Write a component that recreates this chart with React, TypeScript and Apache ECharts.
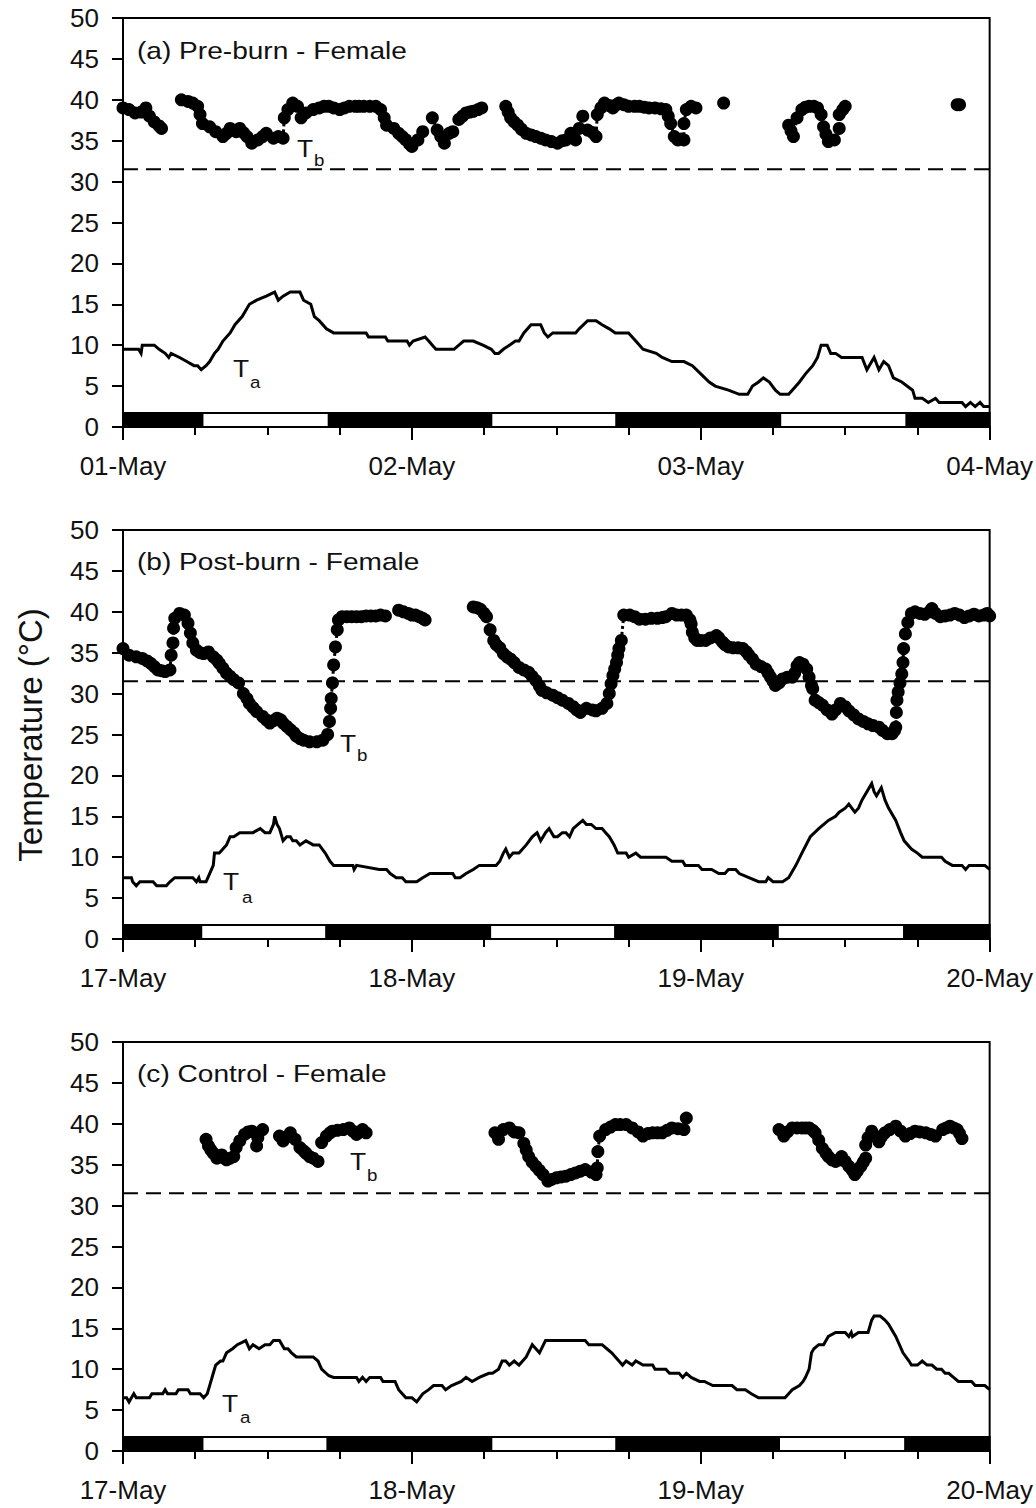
import React, { useEffect, useRef } from "react";
import * as echarts from "echarts";

const FONT = '"Liberation Sans", Arial, sans-serif';

const panelTitles = ["(a) Pre-burn - Female", "(b) Post-burn - Female", "(c) Control - Female"];
const dayLabelsA = ["01-May", "02-May", "03-May", "04-May"];
const dayLabelsB = ["17-May", "18-May", "19-May", "20-May"];
const dayLabelsC = ["17-May", "18-May", "19-May", "20-May"];
const thresholdTb = 31.5;
const lightBarTop = 1.7;

// sunrise / sunset hours (from start of first day)
const lightA = [6.6, 17.1, 30.6, 41.0, 54.6, 65.1];
const lightB = [6.5, 16.9, 30.5, 40.9, 54.4, 64.9];
const lightC = [6.6, 17.0, 30.6, 41.0, 54.5, 65.0];

// ---------- Panel (a) ----------
const taA = [
  [0, 9.5], [1.3, 9.5], [1.5, 9], [1.6, 10], [2.6, 10], [3.0, 9.5], [3.5, 9], [3.8, 8.5], [4.0, 9], [4.7, 8.5],
  [5.3, 8], [5.9, 7.5], [6.2, 7.5], [6.5, 7], [6.9, 7.5], [7.2, 8], [7.6, 9], [7.9, 9.5], [8.3, 10.5], [8.9, 11.5],
  [9.3, 12.5], [9.9, 13.5], [10.5, 15], [11.1, 15.5], [11.9, 16], [12.6, 16.5], [12.9, 15.5], [13.3, 16], [13.9, 16.5],
  [14.7, 16.5], [15.0, 15.5], [15.6, 15], [15.9, 13.5], [16.3, 13], [16.9, 12], [17.5, 11.5], [20.2, 11.5], [20.4, 11],
  [21.8, 11], [22.0, 10.5], [23.6, 10.5], [23.8, 10], [24.1, 10.5], [25.1, 11], [25.4, 10.5], [25.7, 10], [26.0, 9.5],
  [27.5, 9.5], [27.9, 10], [28.3, 10.5], [29.1, 10.5], [29.9, 10], [30.6, 9.5], [30.9, 9], [31.2, 9], [31.6, 9.5],
  [32.1, 10], [32.6, 10.5], [32.9, 10.5], [33.3, 11.5], [33.9, 12.5], [34.7, 12.5], [35.0, 11.5], [35.3, 11],
  [35.7, 11.5], [37.6, 11.5], [37.9, 12], [38.6, 13], [39.3, 13], [39.8, 12.5], [40.4, 12], [40.9, 11.5], [42.0, 11.5],
  [42.6, 10.5], [43.2, 9.5], [44.3, 9], [44.8, 8.5], [45.6, 8], [46.6, 8], [47.3, 7.5], [48.0, 6.5], [48.7, 5.5],
  [49.2, 5], [50.3, 4.5], [51.2, 4], [51.9, 4], [52.3, 5], [52.8, 5.5], [53.2, 6], [53.7, 5.5], [54.2, 4.5], [54.6, 4],
  [55.3, 4], [55.6, 4.5], [56.2, 5.5], [56.7, 6.5], [57.3, 7.5], [57.7, 8.5], [58.0, 10], [58.5, 10], [58.8, 9],
  [59.2, 9], [59.7, 8.5], [61.4, 8.5], [61.8, 7], [62.4, 8.5], [62.8, 7], [63.2, 8], [63.6, 7.5], [64.0, 6], [64.7, 5.5],
  [65.6, 4.5], [65.8, 3.5], [66.4, 3.5], [66.9, 3], [67.5, 3.5], [67.8, 3], [69.7, 3], [70.0, 2.5], [70.4, 3],
  [70.8, 2.5], [71.2, 3], [71.5, 2.5], [72, 2.5],
];

const tbA = [
  [[0, 39], [0.5, 38.8], [1.0, 38.4], [1.5, 38.5], [1.9, 39], [2.2, 38], [2.6, 37.3], [3.0, 36.8], [3.2, 36.5]],
  [[4.85, 40], [5.4, 39.8], [5.8, 39.6], [6.2, 39.2], [6.4, 38.2], [6.6, 37.1], [7.2, 36.7], [7.7, 36.1], [8.3, 35.5],
   [8.6, 35.9], [8.9, 36.5], [9.4, 36.1], [9.7, 36.5], [10.0, 36.0], [10.3, 35.5], [10.7, 34.7], [11.2, 35.1],
   [11.6, 35.5], [11.9, 35.9], [12.5, 35.3], [12.9, 35.5], [13.3, 35.3], [13.4, 37.8], [13.7, 38.8], [14.1, 39.6],
   [14.5, 39.2], [14.8, 37.8], [15.2, 38.4], [15.8, 38.8], [16.3, 39], [16.7, 39.2], [17.1, 39.2], [17.5, 39],
   [18.0, 38.8], [18.4, 39], [18.8, 39.2], [19.3, 39.2], [19.6, 39.2], [20.0, 39.2], [20.5, 39.2], [21.0, 39.2],
   [21.4, 38.8], [21.7, 37.8], [21.9, 36.9], [22.5, 36.5], [22.9, 35.9], [23.2, 35.5], [23.5, 35.1], [23.8, 34.6],
   [24.0, 34.3], [24.5, 35.1], [24.9, 36.1]],
  [[25.7, 37.8], [26.1, 36.3], [26.4, 35.5], [26.7, 34.7], [27.1, 35.9], [27.4, 36.1]],
  [[27.9, 37.6], [28.2, 38], [28.5, 38.4], [28.8, 38.5], [29.1, 38.6], [29.5, 38.8], [29.8, 39]],
  [[31.8, 39.2], [32.0, 38.5], [32.2, 37.8], [32.5, 37.3], [32.8, 36.9], [33.1, 36.4], [33.5, 35.9], [33.9, 35.7],
   [34.3, 35.5], [34.7, 35.3], [35.1, 35.1], [35.6, 34.9], [36.1, 34.7], [36.5, 35], [36.8, 35.1], [37.2, 35.9],
   [37.6, 35.1], [37.9, 36.5], [38.2, 38], [38.6, 36.3], [39.0, 36], [39.3, 35.5], [39.4, 38.2], [39.7, 39],
   [40.0, 39.6], [40.4, 39.3], [40.7, 39], [41.0, 39.4], [41.2, 39.6], [41.6, 39.4], [42.0, 39.2], [42.5, 39.2],
   [42.9, 39.2], [43.3, 39.1], [43.7, 39], [44.2, 39], [44.7, 38.9], [45.1, 38.8], [45.3, 38], [45.5, 37.1],
   [45.8, 35.5], [46.1, 35.1], [46.4, 35.2], [46.6, 35.1], [46.6, 37.1], [46.8, 38.8], [47.2, 39.2], [47.6, 39]],
  [[49.9, 39.6]],
  [[55.3, 36.9], [55.5, 36.2], [55.7, 35.5], [56.0, 37.8], [56.4, 38.8], [56.7, 39.1], [57.0, 39.2], [57.4, 39.2],
   [57.7, 39], [58.0, 38.2], [58.2, 36.7], [58.4, 35.8], [58.6, 34.9], [59.1, 35.1], [59.5, 36.5], [59.5, 38.2],
   [59.8, 38.8], [60.0, 39.2]],
  [[69.3, 39.4], [69.5, 39.4]],
];

// ---------- Panel (b) ----------
const taB = [
  [0, 7.5], [0.7, 7.5], [0.8, 7], [1.1, 6.5], [1.4, 7], [2.5, 7], [2.8, 6.5], [3.6, 6.5], [3.9, 7], [4.3, 7.5],
  [5.8, 7.5], [6.1, 7], [6.3, 7.5], [6.4, 7], [6.9, 7], [7.2, 8], [7.5, 9], [7.6, 10.5], [8.0, 10.5], [8.3, 11],
  [8.6, 11.5], [8.9, 12.5], [9.2, 12.5], [9.7, 13], [10.8, 13], [11.4, 13.5], [11.8, 13], [12.2, 13], [12.5, 14],
  [12.6, 15], [12.8, 14], [13.0, 13.5], [13.3, 12], [13.6, 12.5], [13.9, 12.5], [14.1, 12], [14.4, 12], [14.7, 11.5],
  [15.2, 12], [15.8, 11.5], [16.3, 11.5], [16.8, 10.5], [17.2, 9.5], [17.5, 9], [19.1, 9], [19.2, 8.5], [19.4, 9],
  [21.3, 8.5], [21.9, 8.5], [22.2, 8], [22.7, 7.5], [23.2, 7.5], [23.5, 7], [24.4, 7], [24.9, 7.5], [25.5, 8],
  [27.4, 8], [27.6, 7.5], [28.0, 7.5], [28.5, 8], [29.1, 8.5], [29.6, 9], [31.0, 9], [31.3, 9.5], [31.6, 10.5],
  [31.8, 11], [32.1, 10], [32.4, 10.5], [32.9, 10.5], [33.5, 11.5], [34.0, 12.5], [34.4, 13], [34.7, 12], [35.1, 13],
  [35.4, 13.5], [35.8, 12.5], [36.1, 12.5], [36.5, 13], [36.8, 13], [37.1, 12.5], [37.4, 13.5], [37.8, 14],
  [38.2, 14.5], [38.5, 14], [38.9, 14], [39.3, 13.5], [39.8, 13.5], [40.1, 13], [40.4, 12.5], [40.8, 11.5],
  [41.1, 10.5], [41.8, 10.5], [42.0, 10], [42.6, 10.5], [43.0, 10], [45.1, 10], [45.6, 9.5], [46.5, 9.5], [46.7, 9],
  [47.8, 9], [48.1, 8.5], [48.9, 8.5], [49.5, 8], [50.0, 8], [50.3, 8.5], [50.9, 8.5], [51.2, 8], [52.0, 7.5],
  [52.8, 7], [53.4, 7], [53.6, 7.5], [54.0, 7], [54.8, 7], [55.3, 7.5], [55.9, 9], [56.4, 10.5], [57.1, 12.5],
  [57.8, 13.5], [58.6, 14.5], [59.2, 15], [59.5, 15.5], [60.0, 16], [60.3, 16.5], [60.8, 15.5], [61.1, 16],
  [61.4, 17], [61.8, 18], [62.2, 19], [62.4, 18], [62.6, 17.5], [62.8, 18], [63.0, 18.5], [63.3, 17], [63.6, 16],
  [64.2, 14.5], [64.6, 13], [64.9, 12], [65.5, 11], [66.0, 10.5], [66.4, 10], [68.0, 10], [68.3, 9.5], [68.9, 9],
  [69.7, 9], [70.0, 8.5], [70.3, 9], [71.6, 9], [72, 8.5],
];

const tbB = [
  [[0, 35.5], [0.5, 34.7], [1.1, 34.5], [1.6, 34.3], [2.0, 34], [2.3, 33.7], [2.6, 33.3], [2.9, 32.9], [3.2, 32.8],
   [3.5, 32.7], [3.9, 32.9], [4.0, 34.7], [4.15, 36.2], [4.2, 38], [4.3, 39.2], [4.7, 39.8], [5.1, 39.6], [5.4, 38.6],
   [5.6, 37.4], [5.8, 36.2], [6.1, 35.3], [6.4, 35], [6.7, 34.9], [7.1, 35.1], [7.5, 34.5], [7.8, 34.1], [8.0, 33.7],
   [8.3, 33.1], [8.6, 32.5], [8.9, 32.1], [9.2, 31.7], [9.6, 31.3], [10.0, 30], [10.3, 29.4], [10.5, 28.8],
   [10.8, 28.3], [11.1, 27.8], [11.6, 27.2], [11.9, 26.8], [12.2, 26.4], [12.5, 26.7], [12.8, 27], [13.1, 26.8],
   [13.3, 26.4], [13.6, 26], [13.9, 25.6], [14.2, 25.2], [14.4, 24.8], [14.7, 24.5], [15.0, 24.3], [15.5, 24.1],
   [16.1, 24.1], [16.6, 24.3], [17.0, 25], [17.15, 26.6], [17.25, 28.2], [17.3, 29.4], [17.4, 31.3], [17.5, 33.5],
   [17.65, 35.7], [17.8, 37.8], [17.9, 39], [18.2, 39.4], [18.6, 39.4], [19.0, 39.4], [19.4, 39.4], [19.8, 39.4],
   [20.2, 39.5], [20.6, 39.5], [21.0, 39.5], [21.4, 39.6], [21.8, 39.5]],
  [[22.9, 40.2], [23.3, 40], [23.7, 39.8], [24.0, 39.6], [24.3, 39.6], [24.6, 39.4], [24.9, 39.2], [25.1, 39.0]],
  [[29.1, 40.6], [29.4, 40.5], [29.7, 40.3], [30.0, 39.8], [30.2, 39.4], [30.5, 37.8], [30.8, 36.5], [31.0, 36],
   [31.3, 35.6], [31.6, 34.9], [31.9, 34.5], [32.2, 34.2], [32.5, 33.8], [32.9, 33.2], [33.3, 32.9], [33.7, 32.6],
   [34.0, 32.1], [34.3, 31.6], [34.6, 30.9], [34.8, 30.4], [35.2, 30.1], [35.7, 29.8], [36.1, 29.5], [36.5, 29.2],
   [37.0, 28.8], [37.4, 28.4], [37.7, 28], [38.0, 27.7], [38.5, 28.2], [39.0, 28], [39.3, 27.9], [39.8, 28.2],
   [40.2, 28.8], [40.4, 30], [40.55, 31.2], [40.7, 32.2], [40.85, 33], [41.0, 33.8], [41.1, 34.7], [41.2, 35.5],
   [41.4, 36.5], [41.6, 39.6], [42.1, 39.6], [42.5, 39.4], [42.9, 39.1], [43.4, 39.1], [43.9, 39.2], [44.4, 39.2],
   [44.8, 39.3], [45.1, 39.4], [45.6, 39.8], [46.0, 39.6], [46.4, 39.6], [46.8, 39.6], [47.1, 39], [47.2, 38.5],
   [47.3, 37.5], [47.5, 36.8], [47.7, 36.5], [48.0, 36.5], [48.4, 36.5], [48.8, 36.8], [49.3, 37.1], [49.5, 36.8],
   [49.8, 36.3], [50.0, 36], [50.3, 35.7], [50.7, 35.6], [51.1, 35.6], [51.5, 35.5], [51.8, 35.1], [52.0, 34.7],
   [52.3, 34.2], [52.6, 33.6], [53.0, 33.3], [53.4, 33], [53.6, 32.5], [53.8, 32], [54.0, 31.5], [54.2, 31],
   [54.5, 31.3], [54.8, 31.8], [55.2, 32], [55.6, 32], [55.8, 32.5], [56.0, 33.4], [56.2, 33.8], [56.5, 33.6],
   [56.8, 33], [57.0, 32], [57.2, 31], [57.3, 30.6], [57.5, 29.2], [57.8, 28.9], [58.1, 28.6], [58.5, 28],
   [58.9, 27.5], [59.2, 28], [59.6, 28.8], [60.0, 28.4], [60.3, 27.9], [60.7, 27.4], [61.1, 26.9], [61.5, 26.6],
   [61.9, 26.3], [62.3, 26.1], [62.8, 25.9], [63.1, 25.5], [63.5, 25.1], [63.9, 25.1], [64.1, 25.5], [64.2, 25.9],
   [64.25, 27.7], [64.3, 29.2], [64.4, 30.2], [64.55, 31.3], [64.7, 32.4], [64.8, 33.8], [64.85, 35.5], [65.0, 37.3],
   [65.2, 38.7], [65.5, 39.8], [65.8, 40], [66.2, 39.8], [66.6, 39.7], [67.0, 40], [67.2, 40.4], [67.5, 39.8],
   [67.9, 39.4], [68.3, 39.5], [68.7, 39.6], [69.1, 39.8], [69.5, 39.6], [69.9, 39.3], [70.3, 39.5], [70.7, 39.7],
   [71.1, 39.5], [71.5, 39.6], [71.8, 39.8], [72.0, 39.5]],
];

// ---------- Panel (c) ----------
const taC = [
  [0, 6.5], [0.3, 6.5], [0.5, 6], [0.7, 6.5], [0.9, 7], [1.1, 6.5], [2.2, 6.5], [2.4, 7], [3.3, 7], [3.5, 7.5],
  [3.7, 7], [4.4, 7], [4.6, 7.5], [5.4, 7.5], [5.6, 7], [6.4, 7], [6.7, 6.5], [7.0, 7], [7.2, 8], [7.5, 9.5],
  [7.7, 10.5], [8.1, 11], [8.3, 11], [8.6, 12], [9.1, 12.5], [9.5, 13], [10.2, 13.5], [10.5, 12.5], [10.8, 13],
  [11.3, 12.5], [11.8, 13], [12.2, 13], [12.5, 13.5], [13.0, 13.5], [13.4, 12.5], [13.7, 12.5], [14.0, 12],
  [14.4, 11.5], [15.8, 11.5], [16.2, 11], [16.5, 10], [17.1, 9.2], [17.5, 9], [19.4, 9], [19.6, 8.5], [19.9, 9],
  [20.2, 8.5], [20.5, 9], [21.4, 9], [21.6, 8.5], [22.6, 8.5], [22.9, 7.5], [23.2, 7], [23.5, 6.5], [24.0, 6.5],
  [24.4, 6], [24.9, 7], [25.4, 7.5], [25.8, 8], [26.5, 8], [26.8, 7.5], [27.3, 8], [28.1, 8.5], [28.5, 9],
  [29.0, 8.5], [29.6, 9], [30.4, 9.5], [30.7, 9.5], [31.2, 10], [31.5, 11], [31.8, 11], [32.1, 10.5], [32.5, 11],
  [32.9, 10.5], [33.5, 11.5], [34.0, 13], [34.3, 12.5], [34.6, 12], [35.1, 13.5], [35.7, 13.5], [38.4, 13.5],
  [38.7, 13], [39.8, 13], [40.2, 12.5], [40.6, 12], [41.2, 11], [41.5, 10.5], [41.8, 11], [42.3, 10.5], [42.6, 11],
  [43.2, 10.5], [44.0, 10.5], [44.2, 10], [45.1, 10], [45.4, 9.5], [46.2, 9.5], [46.5, 9], [46.8, 9.5], [47.2, 9],
  [47.9, 8.5], [48.3, 8.5], [49.0, 8], [50.6, 8], [51.0, 7.5], [51.7, 7.5], [52.2, 7], [52.8, 6.5], [53.4, 6.5],
  [55.0, 6.5], [55.3, 7], [55.6, 7.5], [56.2, 8], [56.5, 8.5], [56.7, 9], [57.0, 10], [57.2, 12], [57.4, 12.5],
  [57.8, 13], [58.2, 13], [58.6, 14], [59.2, 14.5], [60.0, 14.5], [60.3, 14], [60.5, 14.5], [60.6, 14], [61.1, 14.5],
  [61.9, 14.5], [62.2, 16], [62.4, 16.5], [62.9, 16.5], [63.3, 16], [63.6, 15.5], [64.2, 14], [64.8, 12], [65.3, 11],
  [65.5, 10.5], [66.0, 10.5], [66.4, 11], [66.8, 10.5], [67.2, 10.5], [67.6, 10], [68.0, 10], [68.3, 9.5],
  [68.6, 9.5], [69.0, 9], [69.4, 8.5], [70.5, 8.5], [70.8, 8], [71.6, 8], [72, 7.5],
];

const tbC = [
  [[6.9, 38.1], [7.1, 37.3], [7.3, 36.8], [7.5, 36.4], [7.8, 35.8], [8.0, 36], [8.2, 36.2], [8.4, 35.8], [8.6, 35.6],
   [8.9, 35.8], [9.2, 36], [9.4, 37.1], [9.7, 37.9], [10.1, 38.7], [10.4, 39], [10.7, 39.1], [11.1, 37.3],
   [11.2, 38.3], [11.6, 39.3]],
  [[13.0, 38.5], [13.3, 37.9], [13.6, 38.4], [13.9, 38.9], [14.3, 38.1], [14.7, 37.1], [15.0, 36.7], [15.2, 36.4],
   [15.5, 36], [15.8, 35.8], [16.2, 35.4]],
  [[16.5, 37.7], [16.9, 38.5], [17.2, 38.9], [17.4, 39.1], [17.8, 39.2], [18.3, 39.3], [18.8, 39.5], [19.1, 39.1],
   [19.4, 38.7], [19.7, 39], [19.9, 39.3], [20.2, 38.9]],
  [[30.9, 38.9], [31.2, 38.1], [31.6, 39.3], [32.1, 39.5], [32.5, 39], [32.9, 38.9], [33.3, 37.6], [33.5, 36.8],
   [33.7, 36], [34.0, 35.3], [34.3, 34.8], [34.6, 34.3], [34.9, 33.8], [35.3, 33], [35.6, 33.2], [36.0, 33.4],
   [36.4, 33.5], [36.8, 33.6], [37.2, 33.8], [37.6, 34], [38.0, 34.2], [38.4, 34.4], [38.9, 34.1], [39.3, 33.8],
   [39.4, 34.6], [39.45, 36.6], [39.6, 38.5], [40.1, 39.3], [40.5, 39.6], [40.9, 39.9], [41.3, 39.9], [41.8, 39.9],
   [42.3, 39.5], [42.8, 39], [43.2, 38.5], [43.6, 38.8], [44.0, 38.9], [44.4, 38.9], [44.8, 38.9], [45.2, 39.2],
   [45.6, 39.5], [46.1, 39.4], [46.6, 39.3], [46.8, 40.7]],
  [[54.5, 39.3], [54.9, 38.5], [55.2, 39], [55.6, 39.5], [56.0, 39.5], [56.4, 39.5], [56.7, 39.5], [57.0, 39.5],
   [57.3, 39.2], [57.5, 38.9], [57.8, 38], [58.1, 37], [58.4, 36.4], [58.6, 36], [58.9, 35.6], [59.2, 35.4],
   [59.5, 35.6], [59.7, 36], [60.0, 35.4], [60.3, 34.8], [60.6, 34.3], [60.8, 33.8], [61.0, 34.2], [61.3, 34.8],
   [61.5, 35.3], [61.7, 35.8], [61.7, 37.4], [61.9, 38.3], [62.2, 39.1], [62.5, 38.5], [62.8, 37.8], [63.0, 38.4],
   [63.3, 38.9], [63.7, 39.3], [64.2, 39.7], [64.6, 39.1], [65.0, 38.5], [65.4, 38.8], [65.8, 39.1], [66.2, 39],
   [66.7, 38.9], [67.1, 38.7], [67.5, 38.5], [68.1, 39.3], [68.4, 39.5], [68.7, 39.7], [69.0, 39.5], [69.3, 39.3],
   [69.5, 38.8], [69.7, 38.2]],
];

// ---------- layout (pixels) ----------
const GRID_TOPS = [18, 530, 1042];
const GRID_HEIGHT = 409;
const GRID_LEFT = 123;
const GRID_WIDTH = 868;

const labelPos = [
  { title: 50.6, tbT: [297, 148.6], tbS: [314, 160], taT: [233, 368.6], taS: [250, 382] },
  { title: 561.6, tbT: [340, 743.6], tbS: [357, 755], taT: [223, 881.6], taS: [242, 897] },
  { title: 1073.6, tbT: [350, 1161.6], tbS: [367, 1175], taT: [222, 1403.6], taS: [240, 1417] },
];

function segmentsToLine(segs: number[][][]) {
  const out: any[] = [];
  segs.forEach((s, i) => {
    if (i > 0) {
      const prev = segs[i - 1];
      out.push([(prev[prev.length - 1][0] + s[0][0]) / 2, null]);
    }
    s.forEach((p) => out.push(p));
  });
  return out;
}

function lightSegments(bounds: number[]) {
  const edges = [0, ...bounds, 72];
  const out: number[][] = [];
  for (let i = 0; i < edges.length - 1; i++) {
    out.push([edges[i], edges[i + 1], i % 2 === 0 ? 1 : 0]);
  }
  return out;
}

function buildOption() {
  const panels = [
    { ta: taA, tb: tbA, light: lightA, days: dayLabelsA },
    { ta: taB, tb: tbB, light: lightB, days: dayLabelsB },
    { ta: taC, tb: tbC, light: lightC, days: dayLabelsC },
  ];
  const grid: any[] = [];
  const xAxis: any[] = [];
  const yAxis: any[] = [];
  const series: any[] = [];
  const graphic: any[] = [];

  panels.forEach((p, i) => {
    grid.push({
      left: GRID_LEFT,
      top: GRID_TOPS[i],
      width: GRID_WIDTH,
      height: GRID_HEIGHT,
      show: true,
      borderColor: "#000",
      borderWidth: 2,
      backgroundColor: "transparent",
    });
    xAxis.push({
      type: "value",
      gridIndex: i,
      min: 0,
      max: 72,
      interval: 24,
      axisLine: { show: true, onZero: false, lineStyle: { color: "#000", width: 2 } },
      axisTick: { show: true, length: 13, lineStyle: { color: "#000", width: 2 } },
      minorTick: { show: true, splitNumber: 4, length: 8, lineStyle: { color: "#000", width: 2 } },
      splitLine: { show: false },
      minorSplitLine: { show: false },
      axisLabel: {
        show: true,
        showMinLabel: true,
        showMaxLabel: true,
        margin: 26,
        fontSize: 26,
        color: "#111",
        fontFamily: FONT,
        formatter: (v: number) => p.days[Math.round(v / 24)] || "",
      },
    });
    yAxis.push({
      type: "value",
      gridIndex: i,
      min: 0,
      max: 50,
      interval: 5,
      axisLine: { show: true, onZero: false, lineStyle: { color: "#000", width: 2 } },
      axisTick: { show: true, length: 11, lineStyle: { color: "#000", width: 2 } },
      splitLine: { show: false },
      axisLabel: { margin: 24, fontSize: 26, color: "#111", fontFamily: FONT },
    });

    series.push({
      type: "custom",
      xAxisIndex: i,
      yAxisIndex: i,
      data: lightSegments(p.light),
      silent: true,
      z: 3,
      renderItem: (params: any, api: any) => {
        const a = api.coord([api.value(0), lightBarTop]);
        const b = api.coord([api.value(1), 0]);
        return {
          type: "rect",
          shape: { x: a[0], y: a[1], width: b[0] - a[0], height: b[1] - a[1] },
          style: { fill: api.value(2) ? "#000" : "#fff", stroke: "#000", lineWidth: 2 },
        };
      },
    });
    series.push({
      type: "line",
      xAxisIndex: i,
      yAxisIndex: i,
      data: [[0, thresholdTb], [72, thresholdTb]],
      symbol: "none",
      silent: true,
      lineStyle: { color: "#000", width: 2, type: [15, 8] },
      z: 2,
    });
    series.push({
      type: "line",
      name: "Ta",
      xAxisIndex: i,
      yAxisIndex: i,
      data: p.ta,
      symbol: "none",
      lineStyle: { color: "#000", width: 3, join: "miter" },
      z: 4,
    });
    series.push({
      type: "line",
      name: "Tb",
      xAxisIndex: i,
      yAxisIndex: i,
      data: segmentsToLine(p.tb),
      connectNulls: false,
      showSymbol: true,
      showAllSymbol: true,
      symbol: "circle",
      symbolSize: 13,
      itemStyle: { color: "#000" },
      lineStyle: { color: "#000", width: 3, type: "dotted" },
      clip: false,
      z: 5,
    });

    const lp = labelPos[i];
    graphic.push({
      type: "text",
      x: 137,
      y: lp.title,
      scaleX: 1.17,
      style: {
        text: panelTitles[i],
        font: `24px ${FONT}`,
        fill: "#111",
        align: "left",
        verticalAlign: "middle",
        textAlign: "left",
        textVerticalAlign: "middle",
      },
    });
    const t = (txt: string, pos: number[], size: number) => ({
      type: "text",
      x: pos[0],
      y: pos[1],
      scaleX: 1.1,
      style: {
        text: txt,
        font: `${size}px ${FONT}`,
        fill: "#111",
        align: "left",
        verticalAlign: "middle",
        textAlign: "left",
        textVerticalAlign: "middle",
      },
    });
    graphic.push(t("T", lp.tbT, 24));
    graphic.push(t("b", lp.tbS, 17));
    graphic.push(t("T", lp.taT, 24));
    graphic.push(t("a", lp.taS, 17));
  });

  graphic.push({
    type: "text",
    x: 30,
    y: 735,
    rotation: Math.PI / 2,
    style: {
      text: "Temperature (°C)",
      font: `33px ${FONT}`,
      fill: "#111",
      align: "center",
      verticalAlign: "middle",
      textAlign: "center",
      textVerticalAlign: "middle",
    },
  });

  return {
    animation: false,
    backgroundColor: "#fff",
    textStyle: { fontFamily: FONT },
    grid,
    xAxis,
    yAxis,
    series,
    graphic,
  };
}

export default function App() {
  const ref = useRef<HTMLDivElement>(null);
  useEffect(() => {
    if (!ref.current) return;
    const chart = echarts.init(ref.current, undefined, { renderer: "svg" });
    chart.setOption(buildOption() as any);
    return () => chart.dispose();
  }, []);
  return (
    <div
      ref={ref}
      style={{ position: "absolute", left: 0, top: 0, width: 1036, height: 1508, background: "#fff" }}
    />
  );
}
